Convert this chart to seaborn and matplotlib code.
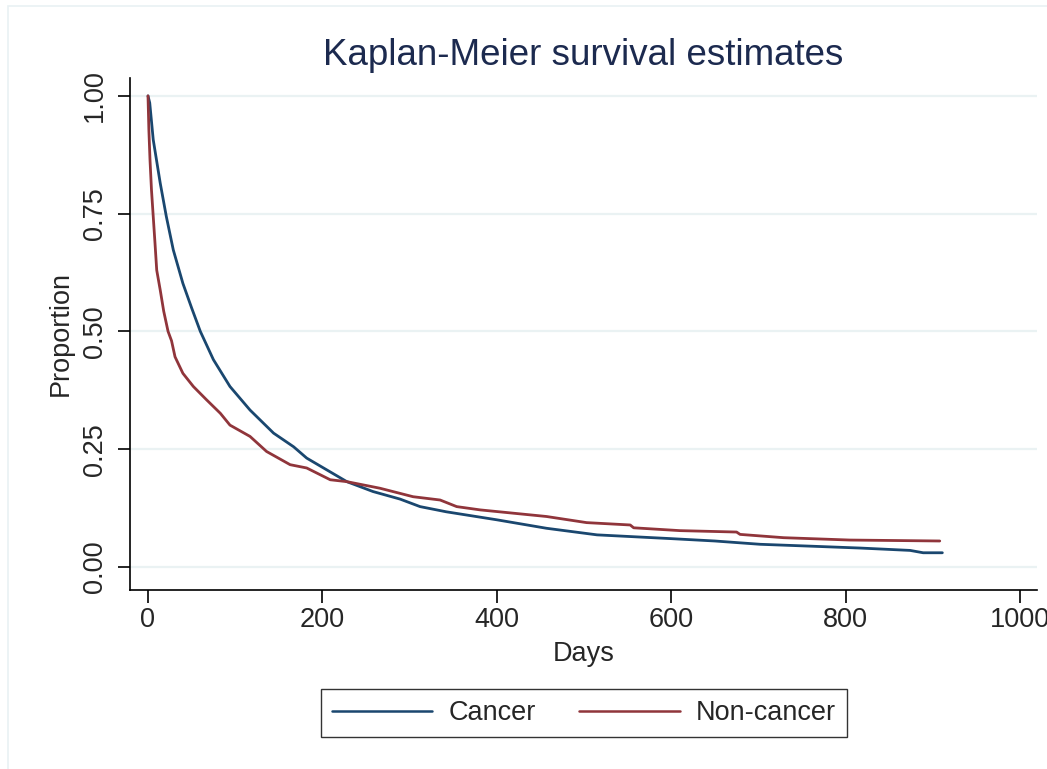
import numpy as np
import pandas as pd
import seaborn as sns
import matplotlib
matplotlib.use("Agg")
from matplotlib import pyplot as plt
from matplotlib.patches import Rectangle

# Survival estimates
cancer_days = [0, 2, 6, 14, 21, 29, 40, 50, 60, 75, 94, 117, 144, 167, 182, 205, 228,
               258, 289, 312, 342, 400, 457, 515, 600, 650, 702, 760, 817, 874, 889, 911]
cancer_surv = [1.0, 0.985, 0.907, 0.815, 0.744, 0.673, 0.602, 0.55, 0.5, 0.44, 0.383,
               0.333, 0.284, 0.255, 0.231, 0.206, 0.181, 0.16, 0.144, 0.128, 0.117, 0.1,
               0.082, 0.068, 0.06, 0.055, 0.048, 0.044, 0.04, 0.035, 0.03, 0.03]

noncancer_days = [0, 1, 2.3, 4, 6, 8, 10, 14, 18, 23, 27, 31, 40, 52, 67, 83, 94, 117,
                  136, 163, 182, 209, 228, 266, 304, 335, 354, 381, 419, 457, 503, 553,
                  557, 610, 675, 679, 729, 805, 908]
noncancer_surv = [1.0, 0.928, 0.864, 0.8, 0.744, 0.688, 0.63, 0.588, 0.543, 0.5, 0.48,
                  0.446, 0.411, 0.383, 0.355, 0.326, 0.301, 0.277, 0.245, 0.217, 0.21,
                  0.185, 0.181, 0.167, 0.149, 0.142, 0.128, 0.121, 0.114, 0.107, 0.094,
                  0.089, 0.083, 0.077, 0.074, 0.069, 0.062, 0.057, 0.055]

groups = ["Cancer", "Non-cancer"]
colors = ["#1a476f", "#90353b"]

df = pd.concat([
    pd.DataFrame({"Days": cancer_days, "Proportion": cancer_surv, "group": groups[0]}),
    pd.DataFrame({"Days": noncancer_days, "Proportion": noncancer_surv, "group": groups[1]}),
], ignore_index=True)

sns.set_style("white")
plt.rcParams["font.family"] = ["Liberation Sans", "DejaVu Sans"]

fig = plt.figure(figsize=(10.47, 7.69), dpi=100)
ax = fig.add_axes([0.1242, 0.2328, 0.8658, 0.6658])

# faint outer graph-region frame
fig.patches.append(Rectangle((8 / 1047, -0.1), 1.2, (769 - 6) / 769 + 0.1,
                             transform=fig.transFigure, fill=False,
                             edgecolor="#e9f1f3", linewidth=1.2))

for yv in [0, 0.25, 0.5, 0.75, 1.0]:
    ax.axhline(yv, color="#eaf2f3", linewidth=1.6, zorder=0)

sns.lineplot(data=df, x="Days", y="Proportion", hue="group", hue_order=groups,
             palette=colors, linewidth=2, ax=ax, legend=False, estimator=None,
             sort=False)

ax.set_xlim(-20.6, 1019)
ax.set_ylim(-0.049, 1.038)
ax.set_xticks([0, 200, 400, 600, 800, 1000])
ax.set_yticks([0, 0.25, 0.5, 0.75, 1.0])
ax.set_yticklabels(["0.00", "0.25", "0.50", "0.75", "1.00"], rotation=90, va="center")
ax.tick_params(axis="both", labelsize=19.5, length=9, width=1.2, color="black",
               direction="out", left=True, bottom=True)
ax.tick_params(axis="y", pad=7)
ax.tick_params(axis="x", pad=3)

for side in ["top", "right"]:
    ax.spines[side].set_visible(False)
for side in ["left", "bottom"]:
    ax.spines[side].set_color("black")
    ax.spines[side].set_linewidth(1.2)

ax.set_xlabel("Days", fontsize=19.5, labelpad=6)
ax.set_ylabel("Proportion", fontsize=19.5, labelpad=6)
ax.set_title("Kaplan-Meier survival estimates", fontsize=26.5, color="#1c2a4f", pad=9)

handles = [plt.Line2D([], [], color=c, linewidth=1.8) for c in colors]
leg = fig.legend(handles, groups, loc="center", bbox_to_anchor=(584 / 1047, 1 - 713 / 769),
                 ncol=2, frameon=True, fancybox=False, fontsize=19.5, handlelength=3.7,
                 columnspacing=1.6, handletextpad=0.6, borderpad=0.4, edgecolor="black")
leg.get_frame().set_linewidth(1.0)

fig.savefig("out.png", dpi=100, facecolor="white")
